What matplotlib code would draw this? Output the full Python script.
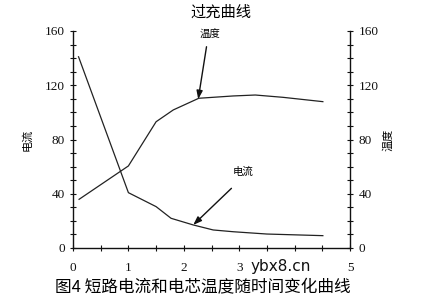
import matplotlib
matplotlib.use("Agg")
import matplotlib.pyplot as plt
import numpy as np

plt.rcParams['font.family'] = ['Liberation Serif', 'Noto Sans CJK SC', 'DejaVu Sans']

# Data (time in arbitrary units)
time_current = [0.10, 1.00, 1.50, 1.77, 2.17, 2.53, 2.89, 3.50, 4.51]
current = [141, 40.8, 30.5, 21.9, 17.0, 13.3, 12.0, 10.3, 9.1]
time_temp = [0.11, 1.00, 1.50, 1.81, 2.27, 2.89, 3.29, 3.79, 4.51]
temperature = [35.9, 60.5, 93.1, 101.8, 110.4, 112.1, 112.8, 111.1, 107.9]

x_ticks = [0, 1, 2, 3, 5]
y_ticks = [0, 40, 80, 120, 160]

title = "过充曲线"
caption = "图4 短路电流和电芯温度随时间变化曲线"
left_label = "电流"
right_label = "温度"

fig = plt.figure(figsize=(4.28, 2.97), dpi=100)
ax = fig.add_axes([73/428, 1-248/297, (350-73)/428, (248-31)/297])
ax2 = ax.twinx()

lc = '#222222'
ax.plot(time_current, current, color=lc, lw=0.9)
ax2.plot(time_temp, temperature, color=lc, lw=0.9)

for a in (ax, ax2):
    a.set_xlim(0, 5)
    a.set_ylim(0, 160)
    a.spines['top'].set_visible(False)
    for s in a.spines.values():
        s.set_linewidth(1.0)
        s.set_color('#111111')

ax.spines['right'].set_visible(False)
ax2.spines['left'].set_visible(False)
ax2.spines['bottom'].set_visible(False)

ax.set_xticks(x_ticks)
ax.set_xticklabels([str(v) for v in x_ticks])
ax.set_xticks(np.arange(0, 5.01, 0.5), minor=True)
ax.set_yticks(y_ticks)
ax.set_yticklabels([str(v) for v in y_ticks])
ax.set_yticks(np.arange(0, 161, 10), minor=True)
ax2.set_yticks(y_ticks)
ax2.set_yticklabels([str(v) for v in y_ticks])
ax2.set_yticks(np.arange(0, 161, 10), minor=True)

ax.tick_params(axis='both', which='both', direction='inout', length=4, width=0.8,
               labelsize=9.5, colors='#111111')
ax.tick_params(axis='x', which='major', pad=8)
ax.tick_params(axis='y', which='major', pad=4)
ax2.tick_params(axis='y', which='both', direction='inout', length=4, width=0.8,
                labelsize=9.5, colors='#111111', pad=4)

ax.set_ylabel(left_label, fontsize=8, family=['Noto Sans CJK SC'], labelpad=9)
ax2.set_ylabel(right_label, fontsize=8, family=['Noto Sans CJK SC'], labelpad=3)

arrowprops = dict(arrowstyle='-|>,head_length=0.5,head_width=0.18', color='#111111', lw=1.0,
                  shrinkA=0, shrinkB=0)
ax2.annotate('', xy=(2.26, 109.7), xytext=(2.41, 148.4), arrowprops=arrowprops)
ax2.text(2.47, 157, right_label, fontsize=7.5, family=['Noto Sans CJK SC'],
         ha='center', va='center')
ax.annotate('', xy=(2.17, 17), xytext=(2.86, 44), arrowprops=arrowprops)
ax.text(3.07, 56.3, left_label, fontsize=7.5, family=['Noto Sans CJK SC'],
        ha='center', va='center')

fig.text(221/428, 1-12/297, title, fontsize=11, family=['Noto Sans CJK SC'],
         ha='center', va='center')
fig.text(203/428, 1-288/297, caption, fontsize=12, family=['Noto Sans CJK SC'],
         ha='center', va='center')
fig.text(281/428, 1-267/297, "ybx8.cn", fontsize=11, family=['DejaVu Sans'],
         ha='center', va='center', color='#111111')

fig.savefig('out.png', dpi=100)
